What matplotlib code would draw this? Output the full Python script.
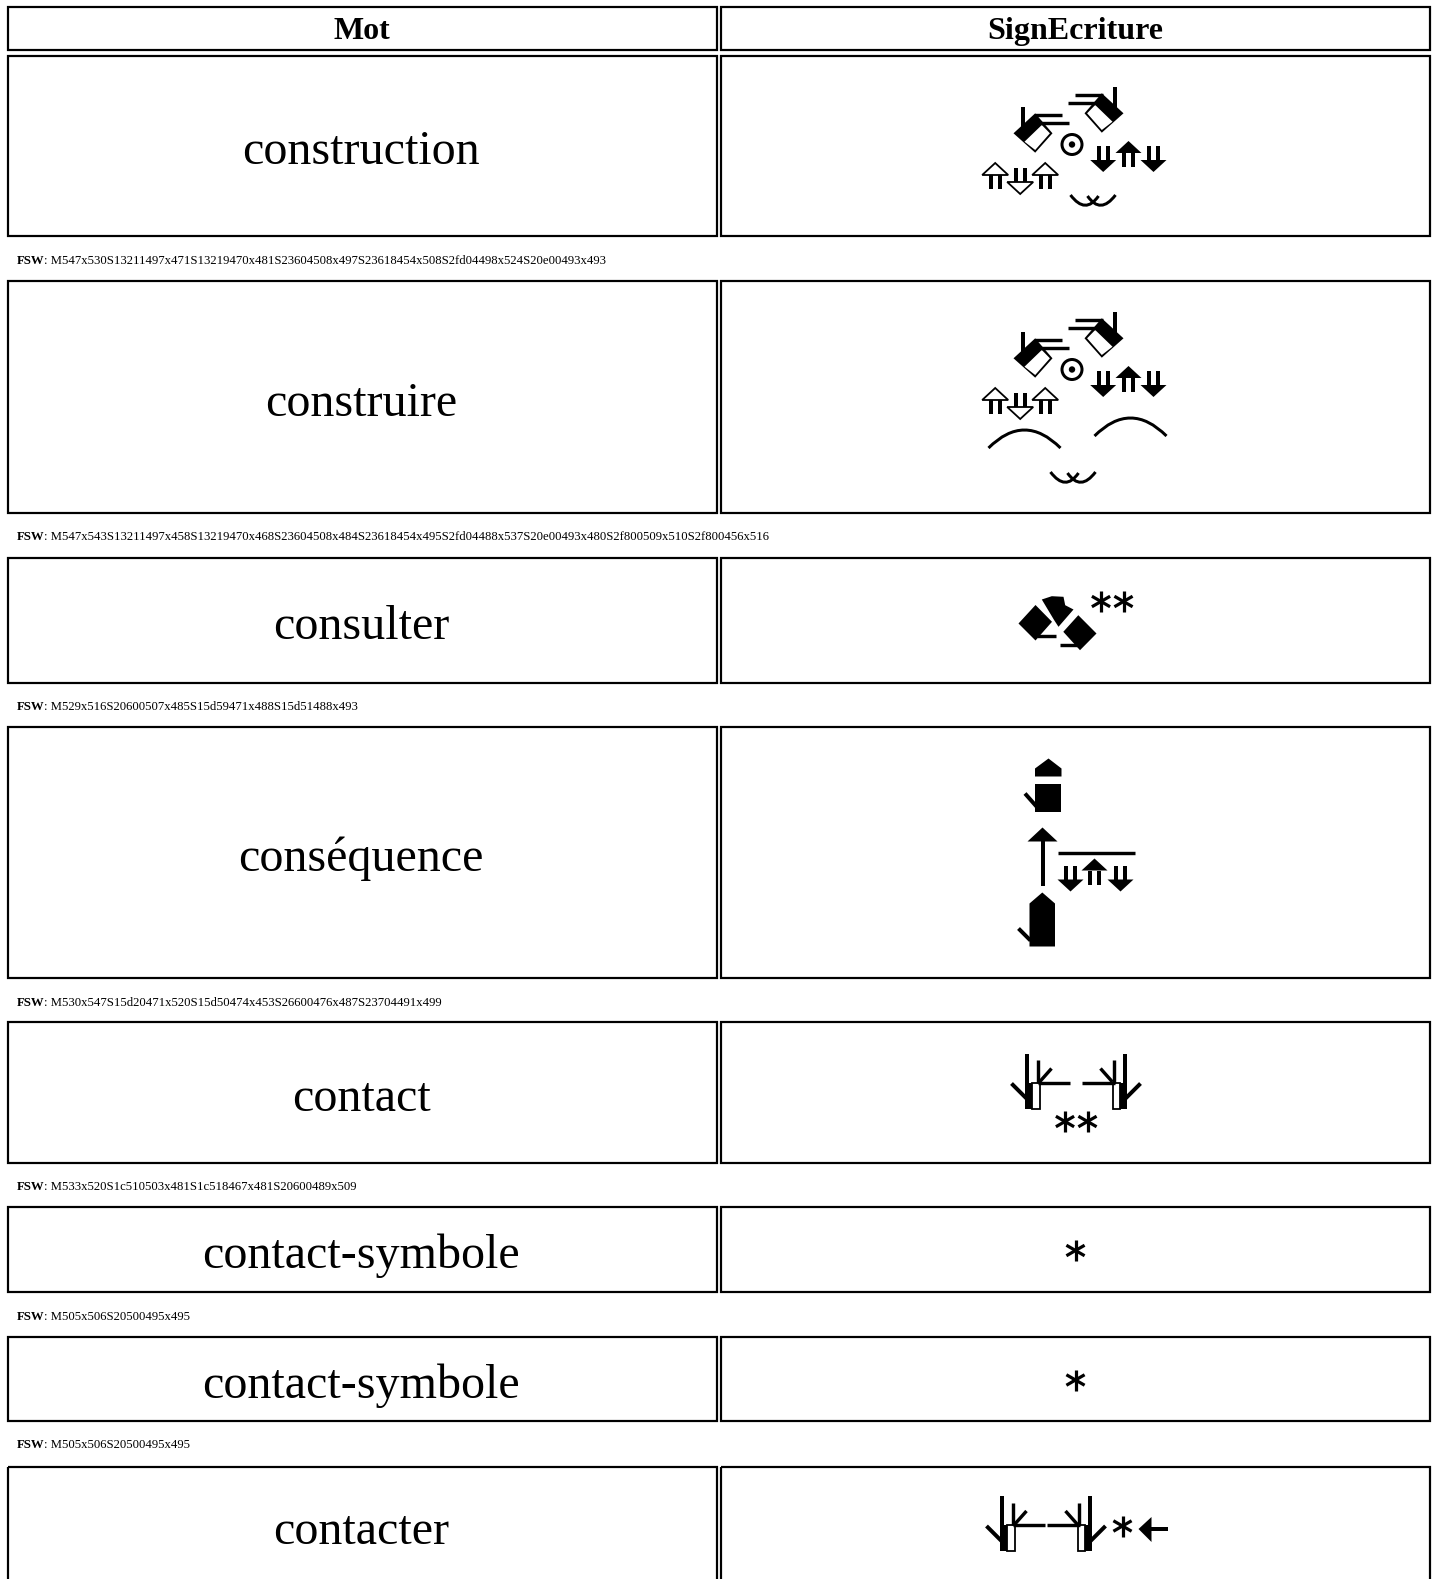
import re
import numpy as np
import matplotlib
matplotlib.use("Agg")
import matplotlib.pyplot as plt
from matplotlib.patches import Polygon, Circle, Rectangle, PathPatch
from matplotlib.path import Path

plt.rcParams['font.family'] = ['Liberation Serif', 'DejaVu Serif']

W, H = 1435, 1579

headers = ["Mot", "SignEcriture"]
words = ["construction", "construire", "consulter", "conséquence", "contact",
         "contact-symbole", "contact-symbole", "contacter"]
fsw = [
    "M547x530S13211497x471S13219470x481S23604508x497S23618454x508S2fd04498x524S20e00493x493",
    "M547x543S13211497x458S13219470x468S23604508x484S23618454x495S2fd04488x537S20e00493x480S2f800509x510S2f800456x516",
    "M529x516S20600507x485S15d59471x488S15d51488x493",
    "M530x547S15d20471x520S15d50474x453S26600476x487S23704491x499",
    "M533x520S1c510503x481S1c518467x481S20600489x509",
    "M505x506S20500495x495",
    "M505x506S20500495x495",
]
# the last row is cut off by the page, its code is not printed
last_sign = "M546x515S1c518455x486S1c510486x486S20500519x495S27106531x495"

row_top = [56, 281, 558, 727, 1022, 1207, 1337, 1467]
row_bottom = [236, 513, 683, 978, 1163, 1292, 1421, 1590]
col_left = [8, 721]
col_right = [717, 1430]

fig = plt.figure(figsize=(W / 100, H / 100), dpi=100)
ax = fig.add_axes([0, 0, 1, 1])
ax.set_xlim(0, W)
ax.set_ylim(H, 0)
ax.axis('off')


def lw(px):
    return px * 0.72


def place(pts, x, y, mirror):
    out = []
    for u, v in pts:
        if mirror is not None:
            u = mirror - u
        out.append((x + u, y + v))
    return out


def poly(pts, x, y, mirror=None, fc='black', ec='none', width=0):
    ax.add_patch(Polygon(place(pts, x, y, mirror), closed=True, facecolor=fc, edgecolor=ec, linewidth=lw(width), joinstyle='miter'))


def line(pts, x, y, mirror=None, width=3.4):
    p = place(pts, x, y, mirror)
    ax.plot([a[0] for a in p], [a[1] for a in p], color='black', lw=lw(width), solid_capstyle='butt')


def curve(a, c, b, x, y, width=3):
    path = Path(place([a, c, b], x, y, None), [Path.MOVETO, Path.CURVE3, Path.CURVE3])
    ax.add_patch(PathPatch(path, fill=False, edgecolor='black', linewidth=lw(width)))


def arrow(u, x, y, up, black, dv=0):
    if up:
        head = [(u, 0), (u + 13, 12), (u - 13, 12)]
        shaft = (12, 26)
    else:
        head = [(u, 31), (u + 13, 19), (u - 13, 19)]
        shaft = (5, 19)
    for s in (-4.5, 4.5):
        line([(u + s, shaft[0] + dv), (u + s, shaft[1] + dv)], x, y, width=4)
    head = [(a, b + dv) for a, b in head]
    if black:
        poly(head, x, y)
    else:
        poly(head, x, y, fc='white', ec='black', width=1.8)


def hand_flat(x, y, mirror=None):
    poly([(33.3, 4.3), (55, 24.3), (33.3, 43.7), (16, 24.3)], x, y, mirror)
    poly([(18.6, 24.3), (26.7, 16), (44, 32.7), (33.3, 41)], x, y, mirror, fc='white')
    line([(46, -2.3), (46, 19)], x, y, mirror, 4)
    line([(6.7, 6), (34, 6)], x, y, mirror, 3.4)
    line([(-0.7, 13.7), (29, 13.7)], x, y, mirror, 3.4)


def arrows_black(x, y):
    arrow(12.7, x, y, False, True)
    arrow(38, x, y, True, True)
    arrow(63, x, y, False, True)


def arrows_white(x, y):
    arrow(12.7, x, y, True, False)
    arrow(37.7, x, y, False, False)
    arrow(62.7, x, y, True, False)


def arrows_line(x, y):
    line([(1, 0), (78, 0)], x, y, width=3.4)
    arrow(14, x, y, False, True, 8)
    arrow(38, x, y, True, True, 6)
    arrow(64, x, y, False, True, 8)


def dot_ring(x, y):
    ax.add_patch(Circle((x + 11.5, y + 11.5), 10, facecolor='white', edgecolor='black', linewidth=lw(3)))
    ax.add_patch(Circle((x + 11.5, y + 11.5), 3.2, facecolor='black', edgecolor='none'))


def smile(x, y):
    curve((0, 0), (15, 20), (28, 1), x, y)
    curve((17, 1), (30, 20), (45, 0), x, y)


def arch(x, y):
    curve((2, 18), (38, -18), (74, 18), x, y)


def star(cx, cy, r=10.5):
    for a in (90, 30, 150):
        dx = r * np.cos(np.radians(a))
        dy = r * np.sin(np.radians(a))
        ax.plot([cx - dx, cx + dx], [cy - dy, cy + dy], color='black', lw=lw(3.2), solid_capstyle='butt')


def star_two(x, y):
    star(x + 11.5, y + 10)
    star(x + 34, y + 10)


def star_one(x, y):
    star(x + 10, y + 10)


def fist_left(x, y):
    poly([(1, 26), (18, 7.5), (34.5, 24.3), (18, 43)], x, y)
    line([(19, 38), (38, 38)], x, y, width=3.4)
    poly([(24.3, 2), (34.3, -1.3), (46, -0.7), (47.7, 7.7), (56, 12), (41, 29.3), (36.7, 22.7)], x, y)


def fist_right(x, y):
    poly([(11.8, 24.3), (26.8, 7.7), (45, 26), (28.5, 42.7)], x, y)
    line([(8.5, 37.7), (28, 37.7)], x, y, width=3.4)


def block_long(x, y):
    poly([(25.8, -2), (38.5, 9), (38.5, 52), (13, 52), (13, 9)], x, y)
    line([(2, 34), (14, 46)], x, y, width=4)


def block_split(x, y):
    poly([(12.5, 16), (12.5, 8), (26, -2), (39, 8), (39, 16)], x, y)
    poly([(12.5, 23.5), (38.5, 23.5), (38.5, 51), (12.5, 51)], x, y)
    line([(2.5, 33), (14, 46)], x, y, width=4)


def arrow_up(x, y):
    line([(16, 10), (16, 57.5)], x, y, width=4)
    poly([(16, -1), (31, 13), (1, 13)], x, y)


def arrow_left(x, y):
    line([(12, 13), (31, 13)], x, y, width=4)
    poly([(2, 13), (15, 1), (15, 26)], x, y)


def touch(x, y, mirror=None):
    line([(2, 28), (18, 44)], x, y, mirror, 4)
    line([(17.8, -2), (17.8, 53)], x, y, mirror, 4)
    poly([(16, 27), (22.5, 27), (22.5, 53), (16, 53)], x, y, mirror)
    poly([(22.5, 27), (30, 27), (30, 53), (22.5, 53)], x, y, mirror, fc='white', ec='black', width=1.8)
    line([(28.8, 4.5), (28.8, 27)], x, y, mirror, 3.4)
    line([(30, 26.5), (42, 13)], x, y, mirror, 3.4)
    line([(28, 27), (60.5, 27)], x, y, mirror, 3.4)


symbols = {
    "S13211": hand_flat,
    "S13219": lambda x, y: hand_flat(x, y, 54),
    "S23604": arrows_black,
    "S23618": arrows_white,
    "S23704": arrows_line,
    "S20e00": dot_ring,
    "S2fd04": smile,
    "S2f800": arch,
    "S20600": star_two,
    "S20500": star_one,
    "S15d59": fist_left,
    "S15d51": fist_right,
    "S15d20": block_long,
    "S15d50": block_split,
    "S26600": arrow_up,
    "S27106": arrow_left,
    "S1c518": touch,
    "S1c510": lambda x, y: touch(x, y, 61),
}


def draw_sign(code, cx, cy):
    # code positions are in sign units, the picture shows them at 2 px per unit
    mx, my = re.match(r"M(\d+)x(\d+)", code).groups()
    items = re.findall(r"(S[0-9a-f]{5})(\d{3})x(\d{3})", code)
    xs = [int(i[1]) for i in items]
    ys = [int(i[2]) for i in items]
    xc = (min(xs) + int(mx)) / 2
    yc = (min(ys) + int(my)) / 2
    for name, sx, sy in items:
        symbols[name](cx + 2 * (int(sx) - xc), cy + 2 * (int(sy) - yc))


def box(i, top, bottom):
    ax.add_patch(Rectangle((col_left[i], top), col_right[i] - col_left[i], bottom - top,
                           fill=False, edgecolor='black', linewidth=lw(2.2), clip_on=True))


for i in range(2):
    box(i, 7, 50)
    ax.text((col_left[i] + col_right[i]) / 2 - 0.7, 39.2, headers[i], fontsize=32 * 0.72, fontweight='bold',
            ha='center', va='baseline')

signs = fsw + [last_sign]
for i, word in enumerate(words):
    top, bottom = row_top[i], row_bottom[i]
    box(0, top, bottom)
    box(1, top, bottom)
    mid = (top + bottom) / 2
    if i == 7:
        mid = 1525
    ax.text((col_left[0] + col_right[0]) / 2 - 1.5, mid + 18.5, word, fontsize=48 * 0.72, ha='center', va='baseline')
    draw_sign(signs[i], (col_left[1] + col_right[1]) / 2, mid + 2)
    if i < len(fsw):
        t = ax.text(17, bottom + 27.5, "FSW", fontsize=12.8 * 0.72, fontweight='bold', ha='left', va='baseline')
        fig.canvas.draw()
        end = t.get_window_extent().x1 - 1
        ax.text(end, bottom + 27.5, ": " + fsw[i], fontsize=12.8 * 0.72, ha='left', va='baseline')

fig.savefig("out.png", dpi=100, facecolor='white')
